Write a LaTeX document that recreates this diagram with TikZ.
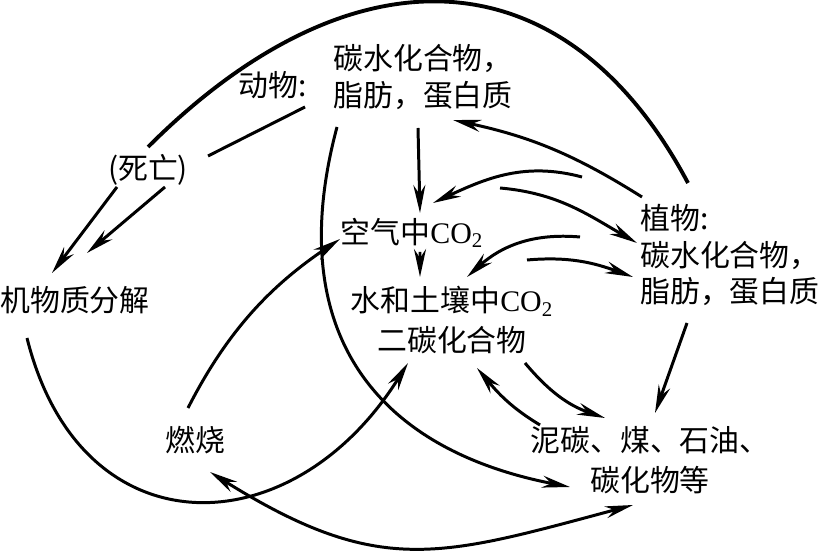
\documentclass[tikz,border=0pt]{standalone}
\usepackage{fontspec}
\setmainfont{Noto Sans CJK SC}
\newfontfamily\latinfont{Liberation Serif}
\usetikzlibrary{arrows.meta}

\begin{document}
\begin{tikzpicture}[
	>={Stealth[length = 5.6mm, width = 2.4mm]},
	lbl/.style = {inner sep = 0pt, align = center, font = \fontsize{17pt}{21pt}\selectfont},
	ln/.style = {line width = 1.7pt},
	arr/.style = {->, line width = 1.7pt}
	]
	\useasboundingbox (0, 0) rectangle (16.54, -11.04);
	% 文字
	\node [lbl] (dongwu) at (5.46, -1.70) {动物:};
	\node [lbl, align = left] (animal) at (8.46, -1.54) {碳水化合物，\\脂肪，蛋白质};
	\node [lbl] (siwang) at (2.96, -3.40) {(死亡)};
	\node [lbl] (air) at (8.24, -4.66) {空气中{\latinfont CO\textsubscript{2}}};
	\node [lbl] (jiexie) at (1.50, -6.00) {机物质分解};
	\node [lbl, font = \fontsize{17pt}{22.5pt}\selectfont] (water) at (9.04, -6.40) {水和土壤中{\latinfont CO\textsubscript{2}}\\二碳化合物};
	\node [lbl, align = left, anchor = west] (zhiwu) at (12.80, -5.10) {植物:\\碳水化合物，\\脂肪，蛋白质};
	\node [lbl] (burn) at (3.90, -8.80) {燃烧};
	\node [lbl, font = \fontsize{17pt}{22.5pt}\selectfont] (peat) at (13.00, -9.20) {泥碳、煤、石油、\\碳化物等};
	% 上方大弧
	\draw [ln, line width = 2.2pt] ([shift = {(0, 0.46)}]siwang.center) to [out = 45, in = 118, out distance = 5.7cm, in distance = 5.3cm] ([shift = {(0.96, 1.44)}]zhiwu.west);
	\draw [ln] ([shift = {(0.64, -0.44)}]dongwu.center) -- ([shift = {(1.20, 0.28)}]siwang.center);
	% 死亡 -> 分解
	\draw [arr] ([shift = {(-0.62, -0.34)}]siwang.center) -- ([shift = {(-0.46, 0.54)}]jiexie.center);
	\draw [arr] ([shift = {(0.34, -0.34)}]siwang.center) -- ([shift = {(0.24, 0.94)}]jiexie.center);
	% 动物、植物、空气
	\draw [arr] ([shift = {(-0.10, -1.02)}]animal.center) -- ([shift = {(0.16, 0.40)}]air.center);
	\draw [arr] ([shift = {(0.04, 1.16)}]zhiwu.west) to [bend right = 10] ([shift = {(0.60, -0.86)}]animal.center);
	\draw [arr] ([shift = {(-1.16, 1.56)}]zhiwu.west) to [out = 165, in = 25] ([shift = {(0.42, 0.60)}]air.center);
	\draw [arr] ([shift = {(1.76, 0.90)}]air.center) to [out = -5, in = 150] ([shift = {(-0.06, 0.24)}]zhiwu.west);
	\draw [arr] ([shift = {(-1.20, 0.36)}]zhiwu.west) to [out = 175, in = 42] ([shift = {(0.30, 0.86)}]water.center);
	\draw [arr] ([shift = {(1.50, 1.20)}]water.center) to [out = 5, in = 160] ([shift = {(-0.14, -0.44)}]zhiwu.west);
	\draw [arr] ([shift = {(0.16, -0.38)}]air.center) -- ([shift = {(-0.64, 0.86)}]water.center);
	% 泥碳、煤、石油
	\draw [arr] ([shift = {(0.94, -1.36)}]zhiwu.west) -- ([shift = {(0.10, 0.94)}]peat.center);
	\draw [arr] ([shift = {(1.46, -0.86)}]water.center) to [out = -50, in = 161] ([shift = {(-0.90, 0.84)}]peat.center);
	\draw [arr] ([shift = {(-2.20, 0.70)}]peat.center) to [out = 149, in = -50] ([shift = {(0.50, -0.96)}]water.center);
	\draw [arr] ([shift = {(-1.72, -1.00)}]animal.center) to [out = -105, in = 169, out distance = 4.2cm, in distance = 4cm] ([shift = {(-1.60, -0.54)}]peat.center);
	% 分解、燃烧
	\draw [arr] ([shift = {(-0.96, -0.76)}]jiexie.center) to [out = -76, in = -122, out distance = 4.4cm, in distance = 4.4cm] ([shift = {(-0.88, -0.86)}]water.center);
	\draw [arr] ([shift = {(-0.14, 0.64)}]burn.center) to [out = 63, in = -146, out distance = 1.8cm, in distance = 1.6cm] ([shift = {(-1.44, -0.12)}]air.center);
	\draw [arr, <->] ([shift = {(0.30, -0.64)}]burn.center) to [out = -32, in = 195, out distance = 4cm, in distance = 4cm] ([shift = {(-0.34, -0.90)}]peat.center);
\end{tikzpicture}
\end{document}
